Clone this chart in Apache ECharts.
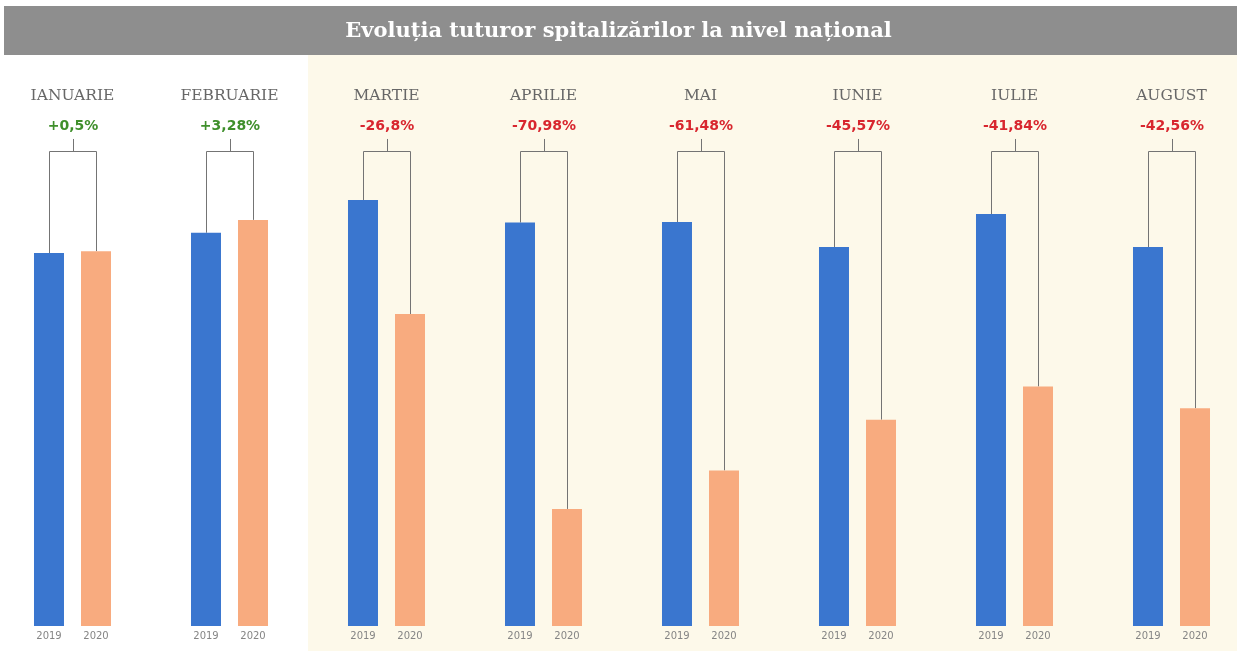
<!DOCTYPE html>
<html>
<head>
<meta charset="utf-8">
<script src="https://cdn.jsdelivr.net/npm/echarts@6/dist/echarts.min.js"></script>
<style>
  html, body { margin: 0; padding: 0; background: #ffffff; }
  #main { width: 1237px; height: 651px; }
</style>
</head>
<body>
<div id="main"></div>
<script>
// luni si valori (mii spitalizari, estimate din imagine)
var months = ['IANUARIE', 'FEBRUARIE', 'MARTIE', 'APRILIE', 'MAI', 'IUNIE', 'IULIE', 'AUGUST'];
var values2019 = [330, 348, 377, 357, 357.5, 335.4, 364.6, 335.4];
var values2020 = [331.7, 359.4, 276, 103.6, 137.7, 182.6, 212, 192.7];
var changeLabels = ['+0,5%', '+3,28%', '-26,8%', '-70,98%', '-61,48%', '-45,57%', '-41,84%', '-42,56%'];

var BLUE = '#3a76cf';
var ORANGE = '#f8ab7f';
var BRACKET_Y = 420;   // nivelul liniei orizontale (in unitati de axa)
var STEM_Y = 431;
var PCT_Y = 442;

var myChart = echarts.init(document.getElementById('main'));

function renderBracket(params, api) {
    var i = api.value(0);
    var cx = Math.round(api.coord([i, 0])[0]);
    var xa = cx - 23.5, xb = cx + 23.5;
    var yTop = Math.round(api.coord([i, BRACKET_Y])[1]) + 0.5;
    var yStem = api.coord([i, STEM_Y])[1];
    var yA = api.coord([i, api.value(1)])[1];
    var yB = api.coord([i, api.value(2)])[1];
    var yPct = api.coord([i, PCT_Y])[1];
    var lineStyle = { stroke: '#747474', lineWidth: 1, fill: 'none' };
    var positive = changeLabels[i].charAt(0) == '+';
    return {
        type: 'group',
        children: [
            { type: 'polyline', shape: { points: [[xa, yA], [xa, yTop], [xb, yTop], [xb, yB]] }, style: lineStyle },
            { type: 'line', shape: { x1: cx + 0.5, y1: yTop, x2: cx + 0.5, y2: yStem }, style: lineStyle },
            { type: 'text', x: cx, y: yPct, style: {
                text: changeLabels[i], align: 'center', verticalAlign: 'middle',
                fill: positive ? '#3f8f2b' : '#d8262e',
                font: 'bold 14px "DejaVu Sans"'
            } }
        ]
    };
}

var bracketData = [];
for (var i = 0; i < months.length; i++) {
    bracketData.push([i, values2019[i], values2020[i]]);
}

var option = {
    animation: false,
    backgroundColor: '#ffffff',
    graphic: [
        { type: 'rect', z: -10, shape: { x: 308, y: 55, width: 929, height: 596 }, style: { fill: '#fdf9ea' } },
        { type: 'rect', z: -10, shape: { x: 4, y: 6, width: 1233, height: 49 }, style: { fill: '#8e8e8e' } }
    ],
    title: {
        text: 'Evoluția tuturor spitalizărilor la nivel național',
        left: 'center',
        top: 16,
        textStyle: { color: '#ffffff', fontFamily: 'DejaVu Serif', fontWeight: 'bold', fontSize: 21 }
    },
    grid: { left: 72.5, width: 1099, top: 61, bottom: 25 },
    xAxis: {
        type: 'category',
        data: months,
        position: 'top',
        boundaryGap: false,
        axisLine: { show: false },
        axisTick: { show: false },
        axisLabel: {
            inside: true,
            margin: 27,
            color: '#676767',
            fontFamily: 'DejaVu Serif',
            fontSize: 15.5
        }
    },
    yAxis: {
        type: 'value',
        min: 0,
        max: 500,
        show: false,
        splitLine: { show: false }
    },
    series: [
        {
            name: '2019', type: 'bar', data: values2019, barWidth: 30, barGap: '56.7%',
            itemStyle: { color: BLUE },
            label: { show: true, position: 'bottom', distance: 5, formatter: '2019', color: '#858585', fontSize: 10, fontFamily: 'DejaVu Sans' }
        },
        {
            name: '2020', type: 'bar', data: values2020, barWidth: 30,
            itemStyle: { color: ORANGE },
            label: { show: true, position: 'bottom', distance: 5, formatter: '2020', color: '#858585', fontSize: 10, fontFamily: 'DejaVu Sans' }
        },
        {
            type: 'custom',
            data: bracketData,
            renderItem: renderBracket,
            z: 1,
            silent: true
        }
    ]
};
myChart.setOption(option);
</script>
</body>
</html>
